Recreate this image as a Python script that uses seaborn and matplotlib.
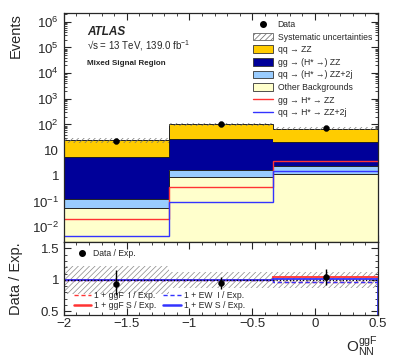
import numpy as np
import pandas as pd
import matplotlib
matplotlib.use("Agg")
import matplotlib.pyplot as plt
import matplotlib.ticker as mticker
from matplotlib.patches import Patch
from matplotlib.lines import Line2D
import seaborn as sns

# bins of the NN observable
edges = [-2.0, -1.1667, -0.3333, 0.5]
centers = [-1.5833, -0.75, 0.0833]

# stacked backgrounds (bottom to top)
other_bkg = [0.054, 0.89, 1.15]
qq_zz2j = [0.066, 0.76, 1.22]
gg_zz = [5.2, 25.3, 17.6]
qq_zz = [19.2, 77.0, 48.0]

# signal-only lines
gg_sig = [0.020, 0.37, 3.8]
qq_sig = [0.0045, 0.095, 1.55]

# data
data_y = [23, 100, 70]
syst_rel = [0.22, 0.13, 0.13]

# ratio panel
ratio_y = [0.94, 0.95, 1.04]
ratio_err_up = [0.22, 0.10, 0.14]
ratio_err_dn = [0.18, 0.09, 0.12]
ggf_s_ratio = [1.0, 1.0, 1.045]
ggf_i_ratio = [1.0, 1.0, 0.965]
ew_s_ratio = [1.0, 1.0, 1.005]
ew_i_ratio = [1.0, 1.0, 0.965]

sns.set_theme(style="ticks")
plt.rcParams['font.family'] = ['Liberation Sans', 'DejaVu Sans']
plt.rcParams['mathtext.fontset'] = 'custom'
plt.rcParams['mathtext.rm'] = 'Liberation Sans'
plt.rcParams['mathtext.it'] = 'Liberation Sans:italic'
plt.rcParams['mathtext.bf'] = 'Liberation Sans:bold'
plt.rcParams['hatch.linewidth'] = 0.5
plt.rcParams['hatch.color'] = '#888888'

c_qqzz = '#FFCC00'
c_ggzz = '#000099'
c_2j = '#99CCFF'
c_other = '#FFFFCC'
c_red = '#FF3333'
c_blue = '#3333FF'

fig = plt.figure(figsize=(3.99, 3.62), dpi=100)
ax = fig.add_axes([0.160, 0.331, 0.787, 0.633])
rax = fig.add_axes([0.160, 0.130, 0.787, 0.201], sharex=ax)

# stack
layers = [(other_bkg, c_other), (qq_zz2j, c_2j), (gg_zz, c_ggzz), (qq_zz, c_qqzz)]
base = np.full(3, 1e-4)
for vals, col in layers:
    top = base + np.array(vals)
    ax.stairs(top, edges, baseline=base, fill=True, color=col, lw=0)
    ax.stairs(top, edges, baseline=None, color='#222222', lw=0.7)
    base = top
total = base

syst = np.array(syst_rel)
ax.stairs(total * (1 + syst), edges, baseline=total * (1 - syst), fill=True,
          facecolor='none', edgecolor='#777777', hatch='//////', lw=0)

ax.stairs(gg_sig, edges, baseline=None, color=c_red, lw=1.0)
ax.stairs(qq_sig, edges, baseline=None, color=c_blue, lw=1.0)

df = pd.DataFrame({'x': centers, 'y': data_y})
sns.scatterplot(data=df, x='x', y='y', ax=ax, color='black', s=18, zorder=5,
                edgecolor='black', legend=False)

ax.set_yscale('log')
ax.set_ylim(2.6e-3, 2.2e6)
ax.set_xlim(-2, 0.5)
ax.yaxis.set_major_locator(mticker.LogLocator(base=10, numticks=20))
ax.yaxis.set_minor_locator(mticker.LogLocator(base=10, subs=np.arange(2, 10), numticks=40))


def log_fmt(v, pos):
    e = int(round(np.log10(v)))
    if e == 0:
        return '1'
    if e == 1:
        return '10'
    return r'$10^{%d}$' % e


def x_fmt(v, pos):
    s = '%g' % v
    return s.replace('-', '\u2212')


ax.yaxis.set_major_formatter(mticker.FuncFormatter(log_fmt))
ax.set_ylabel('Events', fontsize=10.5, loc='top')
ax.set_xlabel('')

ax.text(0.075, 0.905, 'ATLAS', transform=ax.transAxes, fontsize=8.5,
        fontweight='bold', fontstyle='italic')
ax.text(0.075, 0.842, '√s = 13 TeV, 139.0 fb$^{-1}$', transform=ax.transAxes,
        fontsize=7)
ax.text(0.075, 0.772, 'Mixed Signal Region', transform=ax.transAxes, fontsize=5.8,
        fontweight='bold')

handles = [
    Line2D([], [], marker='o', color='black', ls='none', markersize=4),
    Patch(facecolor='white', edgecolor='#666666', hatch='//////', lw=0.6),
    Patch(facecolor=c_qqzz, edgecolor='#333333', lw=0.6),
    Patch(facecolor=c_ggzz, edgecolor='#333333', lw=0.6),
    Patch(facecolor=c_2j, edgecolor='#333333', lw=0.6),
    Patch(facecolor=c_other, edgecolor='#333333', lw=0.6),
    Line2D([], [], color=c_red, lw=1.0),
    Line2D([], [], color=c_blue, lw=1.0),
]
labels = ['Data', 'Systematic uncertainties', 'qq → ZZ',
          'gg → (H* →) ZZ', 'qq → (H* →) ZZ+2j',
          'Other Backgrounds', 'gg → H* → ZZ',
          'qq → H* → ZZ+2j']
ax.legend(handles, labels, loc='upper left', bbox_to_anchor=(0.59, 0.985),
          frameon=False, fontsize=6.2, handlelength=2.4, handleheight=0.95,
          labelspacing=0.42, handletextpad=0.5, borderaxespad=0)

# ratio panel
rel = np.array(syst_rel)
rax.stairs(1 + rel, edges, baseline=1 - rel, fill=True, facecolor='none',
           edgecolor='#888888', hatch='//////', lw=0)
rax.stairs(ggf_i_ratio, edges, baseline=None, color=c_red, lw=1.0, ls=(0, (3, 2)))
rax.stairs(ew_i_ratio, edges, baseline=None, color=c_blue, lw=1.0, ls=(0, (3, 2)))
rax.stairs(ggf_s_ratio, edges, baseline=None, color=c_red, lw=1.3)
rax.stairs(ew_s_ratio, edges, baseline=None, color=c_blue, lw=1.3)
rax.vlines(edges[-1], 0.4, ew_s_ratio[-1], color=c_blue, lw=2.0)
rax.axhline(1.0, color='black', ls=':', lw=0.9, zorder=1)

rdf = pd.DataFrame({'x': centers, 'y': ratio_y})
rax.errorbar(centers, ratio_y, yerr=[ratio_err_dn, ratio_err_up], fmt='none',
             ecolor='black', elinewidth=1.0, zorder=6)
sns.scatterplot(data=rdf, x='x', y='y', ax=rax, color='black', s=18, zorder=7,
                edgecolor='black', legend=False)

rax.set_ylim(0.44, 1.6)
rax.set_xlim(-2, 0.5)
rax.yaxis.set_major_locator(mticker.FixedLocator([0.5, 1.0, 1.5]))
rax.yaxis.set_major_formatter(mticker.FixedFormatter(['0.5', '1', '1.5']))
rax.yaxis.set_minor_locator(mticker.MultipleLocator(0.1))
rax.set_ylabel('Data / Exp.', fontsize=10.5)
rax.set_xlabel(r'O$_{\mathrm{NN}}^{\mathrm{ggF}}$', fontsize=11, loc='right')

leg1 = rax.legend([Line2D([], [], marker='o', color='black', ls='none', markersize=4)],
                  ['Data / Exp.'], loc='upper left', bbox_to_anchor=(0.02, 0.95),
                  frameon=False, fontsize=6.2, handletextpad=0.3, borderaxespad=0)
rax.add_artist(leg1)
lh = [Line2D([], [], color=c_red, lw=1.0, ls=(0, (3, 2))),
      Line2D([], [], color=c_red, lw=1.8),
      Line2D([], [], color=c_blue, lw=1.0, ls=(0, (3, 2))),
      Line2D([], [], color=c_blue, lw=1.8)]
ll = ['1 + ggF  I / Exp.', '1 + ggF S / Exp.', '1 + EW  I / Exp.', '1 + EW S / Exp.']
rax.legend(lh, ll, loc='lower left', bbox_to_anchor=(0.02, 0.02), ncol=2,
           frameon=False, fontsize=6.2, handlelength=2.0, labelspacing=0.1,
           columnspacing=0.8, handletextpad=0.4, borderaxespad=0)

for a in (ax, rax):
    a.xaxis.set_major_locator(mticker.MultipleLocator(0.5))
    a.xaxis.set_minor_locator(mticker.MultipleLocator(0.1))
    a.xaxis.set_major_formatter(mticker.FuncFormatter(x_fmt))
    a.tick_params(which='both', direction='in', top=True, right=True, labelsize=9.5)
    a.tick_params(which='major', length=5, width=0.8)
    a.tick_params(which='minor', length=2.5, width=0.6)
    for s in a.spines.values():
        s.set_linewidth(0.9)
        s.set_visible(True)
ax.tick_params(axis='x', labelbottom=False)
rax.tick_params(axis='x', pad=2)

ax.yaxis.set_label_coords(-0.13, 1.0)
rax.yaxis.set_label_coords(-0.13, 0.5)

fig.savefig('out.png', dpi=100)
